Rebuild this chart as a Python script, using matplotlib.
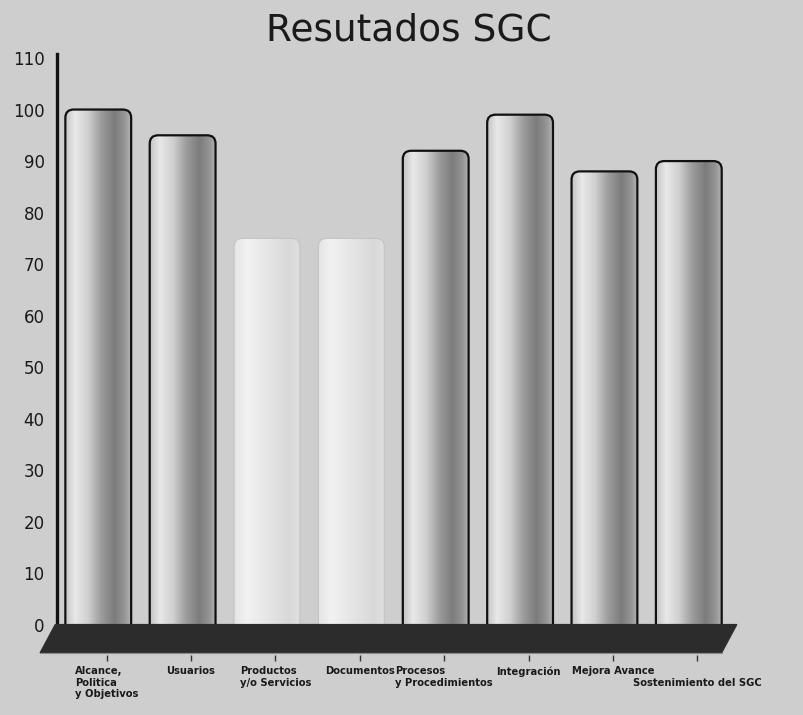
import numpy as np
import matplotlib.pyplot as plt
import matplotlib.transforms as mtransforms
from matplotlib.colors import LinearSegmentedColormap
from matplotlib.patches import FancyBboxPatch, Polygon

# Datos del grafico
categorias = ["Alcance,\nPolitica\ny Objetivos", "Usuarios", "Productos\ny/o Servicios",
              "Documentos", "Procesos\ny Procedimientos", "Integración",
              "Mejora Avance", "Sostenimiento del SGC"]
valores = [100, 95, 75, 75, 92, 99, 88, 90]
tenues = [False, False, True, True, False, False, False, False]
yticks = list(range(0, 111, 10))

FONDO = '#cecece'

# degradado tipo cilindro
cmap_barra = LinearSegmentedColormap.from_list('cil', [
    (0.0, '#c4c4c4'), (0.15, '#e8e8e8'), (0.35, '#d0d0d0'),
    (0.55, '#9c9c9c'), (0.75, '#7c7c7c'), (0.9, '#949494'), (1.0, '#b4b4b4')])
cmap_tenue = LinearSegmentedColormap.from_list('ten', [
    (0.0, '#e4e4e4'), (0.2, '#f2f2f2'), (0.6, '#e2e2e2'), (0.85, '#d8d8d8'), (1.0, '#e0e0e0')])

fig = plt.figure(figsize=(8.04, 7.15), dpi=100, facecolor=FONDO)
ax = fig.add_axes([0.0709, 0.1259, 0.8491, 0.793])
ax.set_facecolor(FONDO)

ancho = 0.78
grad = np.linspace(0, 1, 256).reshape(1, -1)
for i, (v, t) in enumerate(zip(valores, tenues)):
    x0 = i - ancho / 2
    patch = FancyBboxPatch((x0, -2), ancho, v + 2,
                           boxstyle="round,pad=0,rounding_size=0.1",
                           mutation_aspect=16,
                           facecolor='none',
                           edgecolor='#c4c4c4' if t else '#111111',
                           linewidth=0.8 if t else 1.6,
                           zorder=3, clip_on=False)
    ax.add_patch(patch)
    im = ax.imshow(grad, extent=[x0, x0 + ancho, -2, v], aspect='auto',
                   cmap=cmap_tenue if t else cmap_barra, zorder=2)
    im.set_clip_path(patch)
    im.set_clip_box(None)

ax.set_xlim(-0.489, 7.603)
ax.set_ylim(0, 110)

# piso oscuro
piso = Polygon([(-0.51, 0.1), (7.57, 0.1), (7.39, -5.4), (-0.69, -5.4)],
               closed=True, facecolor='#2c2c2c', edgecolor='#2c2c2c',
               linewidth=0.8, zorder=5, clip_on=False)
ax.add_patch(piso)
ax.plot([-0.69, 7.39], [-5.4, -5.4], color='#8a8a8a', lw=0.8, zorder=6, clip_on=False)

# ejes
for s in ['top', 'right', 'bottom']:
    ax.spines[s].set_visible(False)
ax.spines['left'].set_linewidth(2.4)
ax.spines['left'].set_color('#111111')
ax.spines['left'].set_bounds(0, 110.8)
ax.set_yticks(yticks)
ax.tick_params(axis='y', length=0, pad=9, labelsize=12, labelcolor='#1a1a1a')
ax.set_xticks([])

pos = np.arange(len(categorias)) + 0.1
sec = ax.secondary_xaxis(-0.053)
sec.set_xticks(pos)
sec.set_xticklabels(categorias[:-1] + [''], fontsize=7.2, fontweight='bold', color='#1a1a1a')
for lab in sec.get_xticklabels():
    lab.set_multialignment('left')
sec.spines['bottom'].set_visible(False)
sec.tick_params(axis='x', length=4, width=1, color='#333333', pad=4)

# la ultima etiqueta va en la segunda linea
trans = mtransforms.blended_transform_factory(ax.transData, ax.transAxes)
ax.text(pos[-1], -0.1023, categorias[-1], transform=trans, ha='center', va='center',
        fontsize=7.2, fontweight='bold', color='#1a1a1a')

fig.text(0.508, 0.957, 'Resutados SGC', ha='center', va='center',
         fontsize=27, color='#1a1a1a')

fig.savefig('out.png', dpi=100, facecolor=FONDO)
